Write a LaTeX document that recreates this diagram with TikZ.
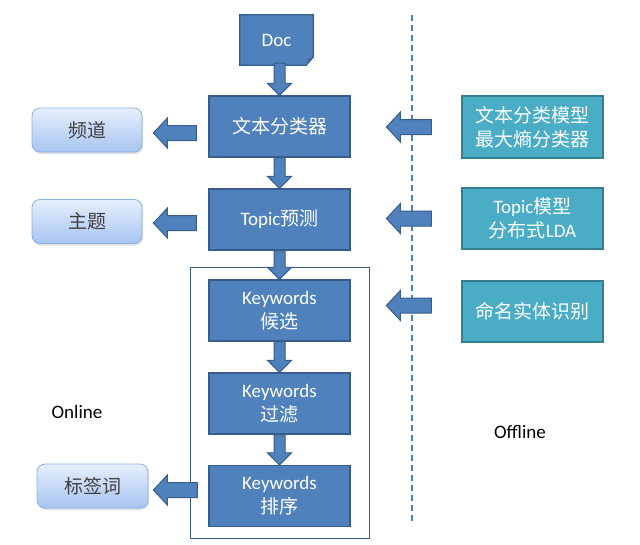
\documentclass[tikz,border=0pt]{standalone}
\usepackage{fontspec}
\setmainfont{Carlito}
\newfontfamily\cjk{Noto Sans CJK SC}
\usetikzlibrary{calc,shadows}
\pgfdeclarelayer{bg}
\pgfsetlayers{bg,main}
\definecolor{bfill}{HTML}{4F81BD}
\definecolor{bdraw}{HTML}{385D8A}
\definecolor{bfold}{HTML}{3E6696}
\definecolor{tfill}{HTML}{4BACC6}
\definecolor{tdraw}{HTML}{357D91}
\definecolor{ltop}{HTML}{E6EFFC}
\definecolor{lbot}{HTML}{A7C4F1}
\definecolor{ldraw}{HTML}{8DB0E3}
\definecolor{ltext}{HTML}{404040}
\newcommand\blockarrow[5]{%
  \draw[ablock] let \p1=(#1), \p2=(#2),
    \n1={atan2(\y2-\y1,\x2-\x1)}, \n2={veclen(\x2-\x1,\y2-\y1)} in
    [shift={(\p1)}, rotate=\n1]
    (0,#3) -- ({\n2-#5},#3) -- ({\n2-#5},#4) -- (\n2,0) -- ({\n2-#5},-#4)
    -- ({\n2-#5},-#3) -- (0,-#3) -- cycle;}
\begin{document}
\begin{tikzpicture}[x=1pt,y=-1pt,
  font=\fontsize{19}{24}\selectfont,
  proc/.style={draw=bdraw, fill=bfill, line width=1.2pt, text=white,
    minimum width=141pt, minimum height=61pt, align=center, inner sep=0pt},
  model/.style={proc, draw=tdraw, fill=tfill},
  outbox/.style={draw=ldraw, line width=0.8pt, rounded corners=8pt,
    top color=ltop, bottom color=lbot, minimum width=110pt, minimum height=44pt,
    text=ltext, inner sep=0pt,
    drop shadow={opacity=0.25, shadow xshift=1pt, shadow yshift=-2pt}},
  ablock/.style={draw=bdraw, fill=bfill, line width=1pt, line join=miter},
  plain/.style={text=black, inner sep=0pt}]
\begin{pgfonlayer}{bg}
\fill[white] (0,0) rectangle (640,544);
\end{pgfonlayer}
\useasboundingbox (0,0) rectangle (640,544);

% frame and divider
\draw[bdraw, line width=0.8pt] (190,267) rectangle (369,538);
\draw[bfill, line width=1.5pt, dash pattern=on 6pt off 4pt] (412,15) -- (412,525);

% doc
\node[inner sep=0pt, minimum width=73pt, minimum height=50pt, text=white] (doc) at (276.5,40) {Doc};
\begin{pgfonlayer}{bg}
\draw[draw=bdraw, fill=bfill, line width=1.2pt, line join=miter]
  (doc.north west) -- (doc.north east) -- ([yshift=8pt]doc.south east)
  -- ([xshift=-7pt]doc.south east) -- (doc.south west) -- cycle;
\fill[bfold] ([xshift=-7pt]doc.south east) -- ([xshift=-5pt,yshift=6pt]doc.south east)
  -- ([yshift=8pt]doc.south east) -- cycle;
\end{pgfonlayer}

% process boxes
\node[proc] (cls) at (279.5,126.5) {\cjk 文本分类器};
\node[proc] (topic) at (279.5,219.5) {Topic{\cjk 预测}};
\node[proc] (kw1) at (279.5,310.5) {Keywords\\\cjk 候选};
\node[proc] (kw2) at (279.5,403.5) {Keywords\\\cjk 过滤};
\node[proc] (kw3) at (279.5,496) {Keywords\\\cjk 排序};

% model boxes
\node[model, minimum height=62pt] (m1) at (532.5,127) {\cjk 文本分类模型\\\cjk 最大熵分类器};
\node[model] (m2) at (532.5,218.5) {Topic{\cjk 模型}\\{\cjk 分布式}LDA};
\node[model] (m3) at (532.5,311.5) {\cjk 命名实体识别};

% output boxes
\node[outbox] (chan) at (87,130) {\cjk 频道};
\node[outbox] (theme) at (87,221.5) {\cjk 主题};
\node[outbox, minimum width=111pt] (tag) at (92.5,486) {\cjk 标签词};

% labels
\node[plain] (online) at (77,412) {Online};
\node[plain] (offline) at (520,432) {Offline};

% vertical arrows
\coordinate (d0) at (cls.north |- 0,63);
\blockarrow{d0}{cls.north}{5.5}{12}{12}
\blockarrow{cls.south}{topic.north}{5.5}{12}{12}
\blockarrow{topic.south}{kw1.north}{5.5}{12}{12}
\blockarrow{kw1.south}{kw2.north}{5.5}{12}{12}
\blockarrow{kw2.south}{kw3.north}{5.5}{12}{12}

% left arrows
\coordinate (l1s) at ([xshift=-12pt,yshift=-6.5pt]cls.west);
\coordinate (l1e) at ([xshift=11pt]chan.east |- l1s);
\coordinate (l2s) at ([xshift=-12pt,yshift=-3.5pt]topic.west);
\coordinate (l2e) at ([xshift=11pt]theme.east |- l2s);
\coordinate (l3s) at ([xshift=-11pt,yshift=6pt]kw3.west);
\coordinate (l3e) at ([xshift=5pt]tag.east |- l3s);
\blockarrow{l1s}{l1e}{7.5}{15}{14}
\blockarrow{l2s}{l2e}{7.5}{15}{14}
\blockarrow{l3s}{l3e}{7.5}{15}{14}

% right arrows
\coordinate (r1s) at ([xshift=-30pt]m1.west);
\coordinate (r1e) at ([xshift=-75pt]m1.west);
\coordinate (r2s) at ([xshift=-30pt]m2.west);
\coordinate (r2e) at ([xshift=-75pt]m2.west);
\coordinate (r3s) at ([xshift=-30pt,yshift=6pt]m3.west);
\coordinate (r3e) at ([xshift=-75pt,yshift=6pt]m3.west);
\blockarrow{r1s}{r1e}{7.5}{15}{14}
\blockarrow{r2s}{r2e}{7.5}{15}{14}
\blockarrow{r3s}{r3e}{7.5}{15}{14}
\end{tikzpicture}
\end{document}
